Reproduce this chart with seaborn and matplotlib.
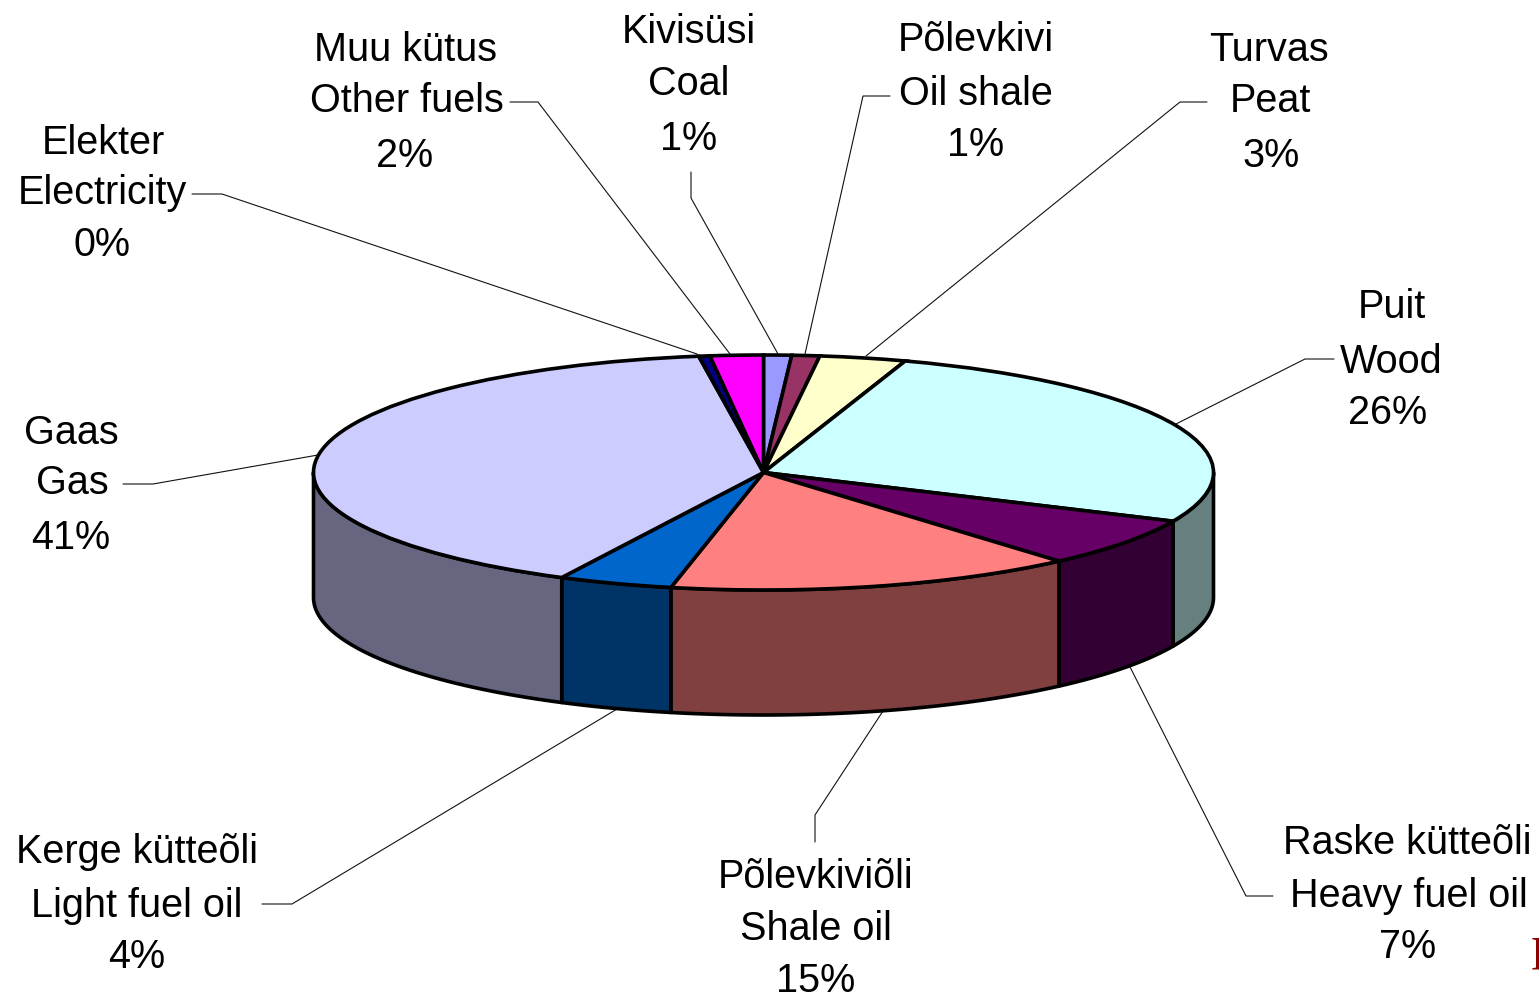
import numpy as np
import matplotlib
matplotlib.use("Agg")
import matplotlib.pyplot as plt
import seaborn as sns

# Shares clockwise from 12 o'clock (printed labels are the rounded ones)
names_et = ["Kivisüsi", "Põlevkivi", "Turvas", "Puit", "Raske kütteõli",
            "Põlevkiviõli", "Kerge kütteõli", "Gaas", "Elekter", "Muu kütus"]
names_en = ["Coal", "Oil shale", "Peat", "Wood", "Heavy fuel oil",
            "Shale oil", "Light fuel oil", "Gas", "Electricity", "Other fuels"]
shares = [1.0, 1.0, 3.1, 26.7, 6.8, 14.7, 4.1, 40.3, 0.4, 1.9]
pct_labels = ["1%", "1%", "3%", "26%", "7%", "15%", "4%", "41%", "0%", "2%"]
top_colors = ["#9999FF", "#993366", "#FFFFCC", "#CCFFFF", "#660066",
              "#FF8080", "#0066CC", "#CCCCFF", "#000080", "#FF00FF"]
wall_colors = ["#4C4C80", "#4C1933", "#808066", "#668080", "#330033",
               "#804040", "#003366", "#666680", "#000040", "#800080"]

# Label line centres in pixels: (estonian, english, percent)
label_pos = [
    [(689, 32), (689, 84), (689, 139)],
    [(976, 40), (976, 94), (976, 145)],
    [(1269, 50), (1270, 101), (1271, 156)],
    [(1392, 307), (1391, 362), (1388, 413)],
    [(1407, 843), (1409, 896), (1408, 947)],
    [(816, 877), (816, 929), (816, 981)],
    [(137, 852), (137, 906), (137, 957)],
    [(71, 433), (72, 483), (71, 538)],
    [(103, 143), (102, 193), (102, 245)],
    [(405, 50), (407, 101), (405, 156)],
]
leaders = [
    [(691, 172), (691, 198), (778, 354)],
    [(890, 96), (863, 96), (805, 354)],
    [(1207, 102), (1180, 102), (866, 356)],
    [(1334, 359), (1305, 359), (1174, 425)],
    [(1273, 896), (1246, 896), (1129, 665)],
    [(815, 842), (815, 815), (883, 711)],
    [(262, 904), (292, 904), (617, 709)],
    [(123, 484), (153, 484), (318, 455)],
    [(192, 194), (222, 194), (697, 354)],
    [(510, 102), (538, 102), (730, 354)],
]

W, H = 1539, 997
CX, CY, RX, RY = 763.5, 472.5, 450, 117.5
DEPTH = 125 / RY
EDGE = 2.6

sns.set_theme(style="white")
plt.rcParams["font.family"] = ["Liberation Sans", "DejaVu Sans"]

fig = plt.figure(figsize=(W / 100, H / 100), dpi=100)
ax = fig.add_axes([0, 0, 1, 1])
ax.set_xlim(0, W)
ax.set_ylim(H, 0)
ax.axis("off")

# Ellipse axes: unit circle squashed into the pie's bounding box
pie_ax = fig.add_axes([(CX - RX) / W, 1 - (CY + RY) / H, 2 * RX / W, 2 * RY / H])
pie_ax.patch.set_alpha(0)

# Side walls, only the part of each slice facing the viewer
edges = 90 - 3.6 * np.cumsum([0] + shares)
for i in range(len(shares)):
    start, end = edges[i], edges[i + 1]
    # front half of the circle is 180..360 deg, i.e. -180..0 here
    lo = max(end, -180)
    hi = min(start, 0)
    if hi <= lo:
        continue
    theta = np.radians(np.linspace(hi, lo, 80))
    x = np.cos(theta)
    y = np.sin(theta)
    px = np.concatenate([x, x[::-1]])
    py = np.concatenate([y, y[::-1] - DEPTH])
    pie_ax.fill(px, py, facecolor=wall_colors[i], edgecolor="black",
                linewidth=EDGE, joinstyle="round", clip_on=False, zorder=1)

wedges, _ = pie_ax.pie(
    shares,
    colors=top_colors,
    startangle=90,
    counterclock=False,
    radius=1,
    wedgeprops={"edgecolor": "black", "linewidth": EDGE, "clip_on": False},
)
for w in wedges:
    w.set_zorder(2)
pie_ax.set_aspect("auto")
pie_ax.set_xlim(-1, 1)
pie_ax.set_ylim(-1, 1)
pie_ax.axis("off")

# Leader lines
for pts in leaders:
    xs, ys = zip(*pts)
    ax.plot(xs, ys, color="#111111", linewidth=0.8, solid_joinstyle="miter")

# Labels, one text per line like the original
for i, pos in enumerate(label_pos):
    lines = [names_et[i], names_en[i], pct_labels[i]]
    for s, (x, y) in zip(lines, pos):
        ax.text(x, y, s, ha="center", va="center", fontsize=28.5, color="black")

# Stray bracket cut off at the right edge of the source image
ax.text(1531, 955, "]", ha="left", va="center", fontsize=27, fontweight="bold",
        family="Liberation Serif", color="#8B0000")

fig.savefig("out.png", dpi=100)
